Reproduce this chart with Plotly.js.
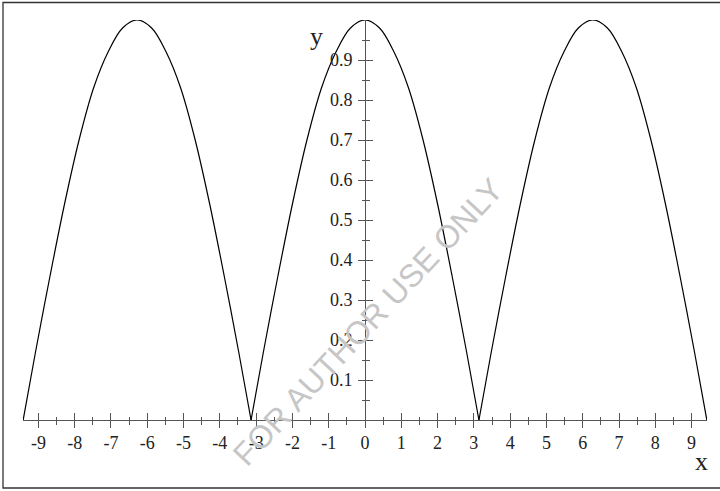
<!DOCTYPE html>
<html>
<head>
<meta charset="utf-8">
<script src="https://cdn.plot.ly/plotly-3.0.1.min.js"></script>
<style>
  html, body { margin: 0; padding: 0; background: #ffffff; }
  #chart { width: 720px; height: 491px; }
</style>
</head>
<body>
<div id="chart"></div>
<script>
// y = |cos(x/2)| on [-3π, 3π], sampled per arch
const archLeftX  = [-9.42, -9.08, -8.68, -8.28, -7.88, -7.48, -7.08, -6.68, -6.28, -5.88, -5.48, -5.08, -4.68, -4.28, -3.88, -3.48, -3.14];
const archMidX   = [-3.14, -2.8, -2.4, -2.0, -1.6, -1.2, -0.8, -0.4, 0, 0.4, 0.8, 1.2, 1.6, 2.0, 2.4, 2.8, 3.14];
const archRightX = [3.14, 3.48, 3.88, 4.28, 4.68, 5.08, 5.48, 5.88, 6.28, 6.68, 7.08, 7.48, 7.88, 8.28, 8.68, 9.08, 9.42];
const archLeftY  = [0, 0.17, 0.36, 0.54, 0.70, 0.83, 0.92, 0.98, 1.00, 0.98, 0.92, 0.83, 0.70, 0.54, 0.36, 0.17, 0];
const archMidY   = [0, 0.17, 0.36, 0.54, 0.70, 0.83, 0.92, 0.98, 1.00, 0.98, 0.92, 0.83, 0.70, 0.54, 0.36, 0.17, 0];
const archRightY = [0, 0.17, 0.36, 0.54, 0.70, 0.83, 0.92, 0.98, 1.00, 0.98, 0.92, 0.83, 0.70, 0.54, 0.36, 0.17, 0];

const xTickVals = [-9, -8, -7, -6, -5, -4, -3, -2, -1, 0, 1, 2, 3, 4, 5, 6, 7, 8, 9];
const xTickText = ['-9', '-8', '-7', '-6', '-5', '-4', '-3', '-2', '-1', '0', '1', '2', '3', '4', '5', '6', '7', '8', '9'];
const yTickVals = [0.1, 0.2, 0.3, 0.4, 0.5, 0.6, 0.7, 0.8, 0.9];
const yTickText = ['0.1', '0.2', '0.3', '0.4', '0.5', '0.6', '0.7', '0.8', '0.9'];

const xRange = [-3 * Math.PI, 3 * Math.PI];
const yRange = [0, 1];

// plot area geometry (pixels) used to place the frame and the x label
const W = 720, H = 491;
const M = { l: 23, r: 13, t: 20, b: 71 };
const plotW = W - M.l - M.r, plotH = H - M.t - M.b;
const px2paperX = px => (px - M.l) / plotW;
const px2paperY = py => (H - M.b - py) / plotH;

const serif = '"Liberation Serif", "Times New Roman", serif';
const curveLine = { color: '#000000', width: 1.2, shape: 'spline', smoothing: 1 };
const traces = [
  { x: archLeftX,  y: archLeftY,  mode: 'lines', line: curveLine, hoverinfo: 'skip', showlegend: false },
  { x: archMidX,   y: archMidY,   mode: 'lines', line: curveLine, hoverinfo: 'skip', showlegend: false },
  { x: archRightX, y: archRightY, mode: 'lines', line: curveLine, hoverinfo: 'skip', showlegend: false },
  // companion axes carry the other half of each crossing tick
  { x: [], y: [], xaxis: 'x2', yaxis: 'y2', mode: 'lines', hoverinfo: 'skip', showlegend: false }
];

const axisColor = '#555555';
const majorX = { tickmode: 'array', tickvals: xTickVals, ticklen: 7, tickwidth: 1, tickcolor: axisColor };
const minorX = { tickmode: 'linear', tick0: 0.5, dtick: 1, ticklen: 3.5, tickwidth: 1, tickcolor: axisColor, showgrid: false };
const majorY = { tickmode: 'array', tickvals: yTickVals, ticklen: 7, tickwidth: 1, tickcolor: axisColor };
const minorY = { tickmode: 'linear', tick0: 0.05, dtick: 0.1, ticklen: 3.5, tickwidth: 1, tickcolor: axisColor, showgrid: false };
const tickFont = { family: serif, size: 18, color: '#222222' };

const layout = {
  width: W, height: H,
  margin: M,
  paper_bgcolor: '#ffffff',
  plot_bgcolor: '#ffffff',
  font: { family: serif, size: 18, color: '#222222' },
  showlegend: false,
  xaxis: {
    range: xRange, showgrid: false, zeroline: false, fixedrange: true,
    showline: true, linecolor: axisColor, linewidth: 1.3,
    ticks: 'outside', ticktext: xTickText, ...majorX,
    tickfont: tickFont, ticklabelstandoff: -1,
    minor: { ...minorX, ticks: 'outside' }
  },
  xaxis2: {
    range: xRange, overlaying: 'x', anchor: 'y', side: 'bottom',
    showgrid: false, zeroline: false, fixedrange: true, showline: false,
    showticklabels: false, ticks: 'inside', ...majorX,
    minor: { ...minorX, ticks: 'inside' }
  },
  yaxis: {
    range: yRange, anchor: 'free', position: 0.5, side: 'left',
    showgrid: false, zeroline: false, fixedrange: true,
    showline: true, linecolor: axisColor, linewidth: 1.3,
    ticks: 'outside', ticktext: yTickText, ...majorY,
    tickfont: tickFont, ticklabelstandoff: 2,
    minor: { ...minorY, ticks: 'outside' }
  },
  yaxis2: {
    range: yRange, overlaying: 'y', anchor: 'free', position: 0.5, side: 'right',
    showgrid: false, zeroline: false, fixedrange: true, showline: false,
    showticklabels: false, ticks: 'outside', ...majorY,
    minor: { ...minorY, ticks: 'outside' }
  },
  shapes: [
    {
      type: 'rect', xref: 'paper', yref: 'paper', layer: 'below',
      x0: px2paperX(3), x1: px2paperX(740), y0: px2paperY(488), y1: px2paperY(2.5),
      line: { color: '#333333', width: 1.3 }, fillcolor: 'rgba(0,0,0,0)'
    }
  ],
  annotations: [
    {
      text: 'x', xref: 'paper', yref: 'paper', x: px2paperX(701), y: px2paperY(461),
      xanchor: 'center', yanchor: 'middle', showarrow: false,
      font: { family: serif, size: 26, color: '#222222' }
    },
    {
      text: 'y', xref: 'x', yref: 'y', x: -1.33, y: 0.96,
      xanchor: 'center', yanchor: 'middle', showarrow: false,
      font: { family: serif, size: 26, color: '#222222' }
    },
    {
      text: 'FOR AUTHOR USE ONLY', xref: 'x', yref: 'y', x: 0.08, y: 0.245,
      xanchor: 'center', yanchor: 'middle', showarrow: false, textangle: -47,
      font: { family: '"Liberation Sans", Arial, sans-serif', size: 32, color: '#c6c6c6' }
    }
  ]
};

Plotly.newPlot('chart', traces, layout, { staticPlot: true, displayModeBar: false });
</script>
</body>
</html>
